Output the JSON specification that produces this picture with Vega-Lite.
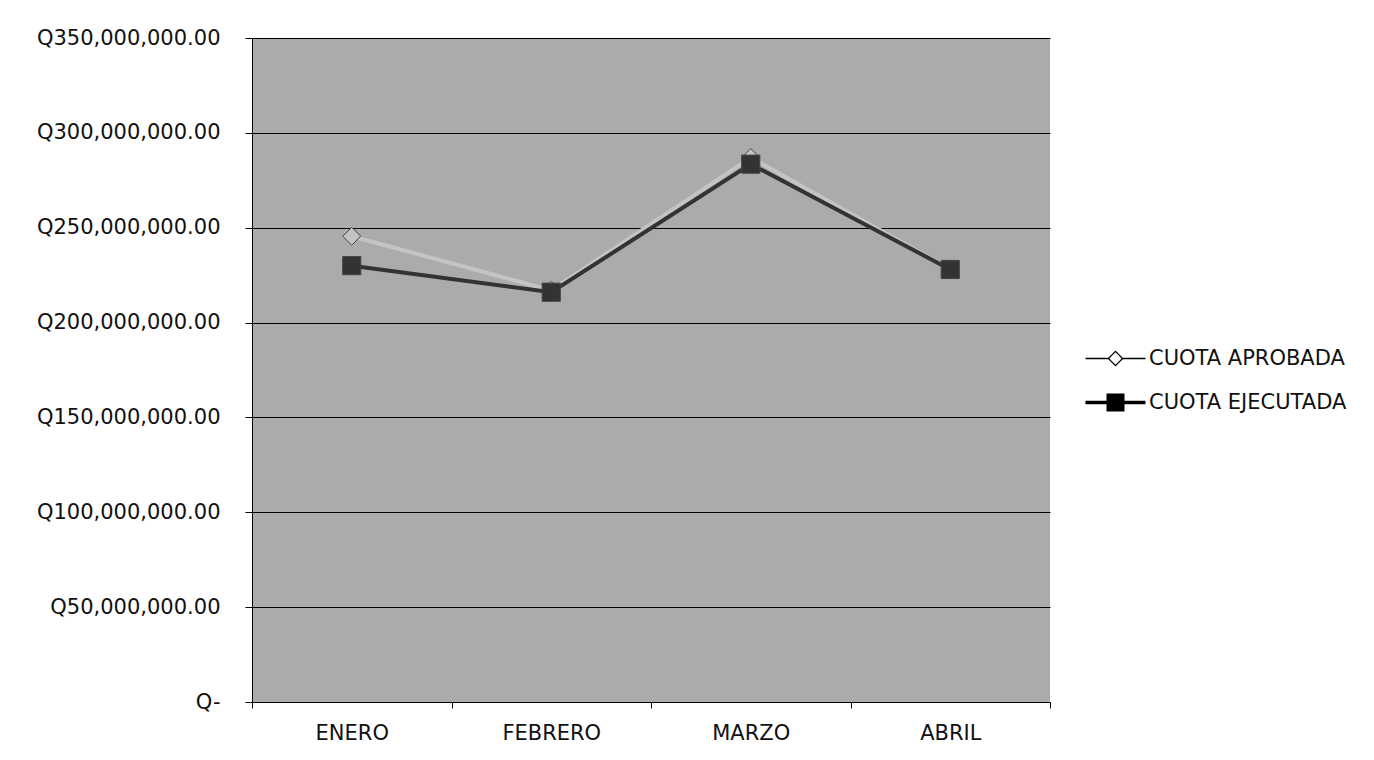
{
  "$schema": "https://vega.github.io/schema/vega-lite/v6.json",
  "width": 798,
  "height": 664,
  "autosize": "none",
  "padding": {"left": 252, "top": 38, "right": 324, "bottom": 58},
  "background": "white",
  "config": {
    "font": "DejaVu Sans",
    "view": {"fill": "#ababab", "stroke": null}
  },
  "data": {
    "values": [
      {"mes": "ENERO", "serie": "CUOTA APROBADA", "valor": 245500000},
      {"mes": "FEBRERO", "serie": "CUOTA APROBADA", "valor": 217000000},
      {"mes": "MARZO", "serie": "CUOTA APROBADA", "valor": 287000000},
      {"mes": "ABRIL", "serie": "CUOTA APROBADA", "valor": 228000000},
      {"mes": "ENERO", "serie": "CUOTA EJECUTADA", "valor": 230000000},
      {"mes": "FEBRERO", "serie": "CUOTA EJECUTADA", "valor": 216000000},
      {"mes": "MARZO", "serie": "CUOTA EJECUTADA", "valor": 283500000},
      {"mes": "ABRIL", "serie": "CUOTA EJECUTADA", "valor": 228000000}
    ]
  },
  "encoding": {
    "x": {
      "field": "mes",
      "type": "nominal",
      "sort": ["ENERO", "FEBRERO", "MARZO", "ABRIL"],
      "scale": {"paddingInner": 0, "paddingOuter": 0},
      "axis": {
        "title": null,
        "labelAngle": 0,
        "labelFontSize": 21,
        "labelColor": "#111",
        "labelPadding": 14,
        "labelLimit": 0,
        "tickBand": "extent",
        "tickSize": 6,
        "tickColor": "#000",
        "domainColor": "#000",
        "grid": false
      }
    },
    "y": {
      "field": "valor",
      "type": "quantitative",
      "scale": {"domain": [0, 350000000]},
      "axis": {
        "title": null,
        "values": [0, 50000000, 100000000, 150000000, 200000000, 250000000, 300000000, 350000000],
        "labelExpr": "datum.value == 0 ? 'Q-' : 'Q' + format(datum.value, ',.2f')",
        "labelFontSize": 21,
        "labelColor": "#111",
        "labelPadding": 25,
        "labelLimit": 0,
        "tickSize": 7,
        "tickColor": "#000",
        "domainColor": "#000",
        "grid": true,
        "gridColor": "#000",
        "gridOpacity": 1,
        "gridWidth": 1
      }
    },
    "color": {
      "field": "serie",
      "type": "nominal",
      "scale": {"domain": ["CUOTA APROBADA", "CUOTA EJECUTADA"], "range": ["#c4c4c4", "#333333"]},
      "legend": null
    }
  },
  "resolve": {"scale": {"shape": "independent", "size": "independent"}, "legend": {"shape": "independent"}},
  "layer": [
    {
      "mark": {"type": "line", "strokeWidth": 4},
      "encoding": {"detail": {"field": "serie"}}
    },
    {
      "mark": {"type": "point", "filled": true, "opacity": 1, "stroke": "#444", "strokeWidth": 1},
      "encoding": {
        "shape": {
          "field": "serie",
          "type": "nominal",
          "scale": {"domain": ["CUOTA APROBADA", "CUOTA EJECUTADA"], "range": ["diamond", "square"]},
          "legend": null
        },
        "size": {
          "field": "serie",
          "type": "nominal",
          "scale": {"domain": ["CUOTA APROBADA", "CUOTA EJECUTADA"], "range": [320, 330]},
          "legend": null
        }
      }
    },
    {
      "transform": [{"filter": "false"}],
      "mark": {"type": "point", "filled": true, "opacity": 1, "color": "#333333"},
      "encoding": {
        "shape": {
          "field": "serie",
          "type": "nominal",
          "scale": {
            "domain": ["CUOTA APROBADA", "CUOTA EJECUTADA"],
            "range": [
              "M-3,-0.07H-0.75V0.07H-3ZM0.75,-0.07H3V0.07H0.75ZM0,-0.8L0.8,0L0,0.8L-0.8,0ZM0,-0.62L-0.62,0L0,0.62L0.62,0Z",
              "M-3,-0.17H3V0.17H-3ZM-0.9,-0.9H0.9V0.9H-0.9Z"
            ]
          },
          "legend": {
            "title": null,
            "orient": "none",
            "legendX": 853,
            "legendY": 310,
            "labelFontSize": 21,
            "labelColor": "#111",
            "labelLimit": 0,
            "symbolSize": 400,
            "symbolStrokeWidth": 0,
            "symbolOpacity": 1,
            "rowPadding": 22,
            "labelOffset": 23
          }
        }
      }
    }
  ]
}
